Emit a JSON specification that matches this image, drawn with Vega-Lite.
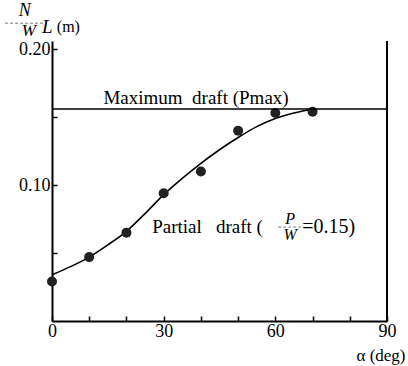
{
  "$schema": "https://vega.github.io/schema/vega-lite/v6.json",
  "autosize": "none",
  "padding": {"left": 52, "top": 41, "right": 21, "bottom": 45},
  "width": 335,
  "height": 280,
  "background": "white",
  "data": {"values": [{}]},
  "datasets": {
    "points": [
      {"alpha": 0, "v": 0.029},
      {"alpha": 10, "v": 0.047},
      {"alpha": 20, "v": 0.065},
      {"alpha": 30, "v": 0.094},
      {"alpha": 40, "v": 0.110},
      {"alpha": 50, "v": 0.140},
      {"alpha": 60, "v": 0.153},
      {"alpha": 70, "v": 0.154}
    ],
    "curve": [
      {"alpha": 0, "v": 0.034},
      {"alpha": 5, "v": 0.040},
      {"alpha": 10, "v": 0.047},
      {"alpha": 15, "v": 0.056},
      {"alpha": 20, "v": 0.066},
      {"alpha": 25, "v": 0.079},
      {"alpha": 30, "v": 0.093},
      {"alpha": 35, "v": 0.105},
      {"alpha": 40, "v": 0.116},
      {"alpha": 45, "v": 0.126},
      {"alpha": 50, "v": 0.135},
      {"alpha": 55, "v": 0.143},
      {"alpha": 60, "v": 0.149},
      {"alpha": 65, "v": 0.153},
      {"alpha": 70, "v": 0.156}
    ]
  },
  "encoding": {
    "x": {
      "type": "quantitative",
      "scale": {"domain": [0, 90], "nice": false, "zero": false},
      "axis": {
        "values": [0, 10, 20, 30, 40, 50, 60, 70, 80, 90],
        "labelExpr": "datum.value % 30 === 0 ? datum.label : ''",
        "labelFlush": false,
        "labelOverlap": false,
        "tickSize": -5,
        "labelPadding": 6,
        "labelAngle": 0,
        "title": "α (deg)",
        "titleX": 353,
        "titleY": 34,
        "titleAlign": "right",
        "titleAnchor": null,
        "titleBaseline": "middle",
        "titleFontSize": 17,
        "titleFontWeight": "normal"
      }
    },
    "y": {
      "type": "quantitative",
      "scale": {"domain": [0, 0.206], "nice": false, "zero": false},
      "axis": {
        "values": [0.05, 0.1, 0.15, 0.2],
        "labelExpr": "datum.value == 0.1 || datum.value == 0.2 ? format(datum.value, '.2f') : ''",
        "labelFlush": false,
        "labelOverlap": false,
        "tickSize": -5,
        "labelPadding": 7,
        "title": null
      }
    }
  },
  "layer": [
    {
      "data": {"name": "curve"},
      "mark": {"type": "line", "interpolate": "monotone", "color": "black", "strokeWidth": 1.6},
      "encoding": {
        "x": {"field": "alpha", "type": "quantitative"},
        "y": {"field": "v", "type": "quantitative"}
      }
    },
    {
      "data": {"name": "points"},
      "mark": {"type": "circle", "color": "#222", "opacity": 1, "size": 100},
      "encoding": {
        "x": {"field": "alpha", "type": "quantitative"},
        "y": {"field": "v", "type": "quantitative"}
      }
    },
    {
      "mark": {"type": "rule", "color": "black", "strokeWidth": 1.6},
      "encoding": {
        "x": {"datum": 0, "type": "quantitative"},
        "x2": {"datum": 90},
        "y": {"datum": 0.156, "type": "quantitative"}
      }
    },
    {
      "mark": {"type": "rule", "color": "black", "strokeWidth": 2},
      "encoding": {
        "x": {"datum": 90, "type": "quantitative"},
        "y": {"datum": 0, "type": "quantitative"},
        "y2": {"datum": 0.206}
      }
    },
    {
      "mark": {"type": "text", "font": "Liberation Serif", "fontSize": 19, "color": "black", "align": "center", "baseline": "middle"},
      "encoding": {
        "x": {"datum": 38.7, "type": "quantitative"},
        "y": {"datum": 0.164, "type": "quantitative"},
        "text": {"value": "Maximum\u00a0\u00a0draft\u00a0(Pmax)"}
      }
    },
    {
      "mark": {"type": "text", "font": "Liberation Serif", "fontSize": 19, "color": "black", "align": "left", "baseline": "middle"},
      "encoding": {
        "x": {"datum": 26.9, "type": "quantitative"},
        "y": {"datum": 0.0691, "type": "quantitative"},
        "text": {"value": "Partial\u00a0\u00a0\u00a0draft\u00a0("}
      }
    },
    {
      "mark": {"type": "text", "font": "Liberation Serif", "fontSize": 16, "fontStyle": "italic", "color": "black", "align": "center", "baseline": "middle"},
      "encoding": {
        "x": {"datum": 64.0, "type": "quantitative"},
        "y": {"datum": 0.0748, "type": "quantitative"},
        "text": {"value": "P"}
      }
    },
    {
      "mark": {"type": "rule", "color": "#777", "strokeWidth": 1, "strokeDash": [3, 2]},
      "encoding": {
        "x": {"datum": 60.8, "type": "quantitative"},
        "x2": {"datum": 66.8},
        "y": {"datum": 0.0691, "type": "quantitative"}
      }
    },
    {
      "mark": {"type": "text", "font": "Liberation Serif", "fontSize": 16, "fontStyle": "italic", "color": "black", "align": "center", "baseline": "middle"},
      "encoding": {
        "x": {"datum": 64.0, "type": "quantitative"},
        "y": {"datum": 0.0632, "type": "quantitative"},
        "text": {"value": "W"}
      }
    },
    {
      "mark": {"type": "text", "font": "Liberation Serif", "fontSize": 20, "color": "black", "align": "left", "baseline": "middle"},
      "encoding": {
        "x": {"datum": 67.2, "type": "quantitative"},
        "y": {"datum": 0.0691, "type": "quantitative"},
        "text": {"value": "=0.15)"}
      }
    },
    {
      "mark": {"type": "text", "font": "Liberation Serif", "fontSize": 18, "fontStyle": "italic", "color": "black", "align": "center", "baseline": "middle"},
      "encoding": {
        "x": {"datum": -7.3, "type": "quantitative"},
        "y": {"datum": 0.228, "type": "quantitative"},
        "text": {"value": "N"}
      }
    },
    {
      "mark": {"type": "rule", "color": "#777", "strokeWidth": 1, "strokeDash": [3, 2]},
      "encoding": {
        "x": {"datum": -12.6, "type": "quantitative"},
        "x2": {"datum": -2.4},
        "y": {"datum": 0.2191, "type": "quantitative"}
      }
    },
    {
      "mark": {"type": "text", "font": "Liberation Serif", "fontSize": 17, "fontStyle": "italic", "color": "black", "align": "center", "baseline": "middle"},
      "encoding": {
        "x": {"datum": -6.2, "type": "quantitative"},
        "y": {"datum": 0.2135, "type": "quantitative"},
        "text": {"value": "W"}
      }
    },
    {
      "mark": {"type": "text", "font": "Liberation Serif", "fontSize": 19, "fontStyle": "italic", "color": "black", "align": "left", "baseline": "middle"},
      "encoding": {
        "x": {"datum": -2.7, "type": "quantitative"},
        "y": {"datum": 0.2165, "type": "quantitative"},
        "text": {"value": "L"}
      }
    },
    {
      "mark": {"type": "text", "font": "Liberation Serif", "fontSize": 16, "color": "black", "align": "left", "baseline": "middle"},
      "encoding": {
        "x": {"datum": 1.3, "type": "quantitative"},
        "y": {"datum": 0.2165, "type": "quantitative"},
        "text": {"value": "(m)"}
      }
    }
  ],
  "config": {
    "view": {"stroke": null},
    "axis": {
      "grid": false,
      "domainColor": "black",
      "domainWidth": 2,
      "tickColor": "black",
      "tickWidth": 1.5,
      "labelFont": "Liberation Serif",
      "labelFontSize": 18,
      "labelColor": "black",
      "titleFont": "Liberation Serif",
      "titleColor": "black"
    }
  }
}
